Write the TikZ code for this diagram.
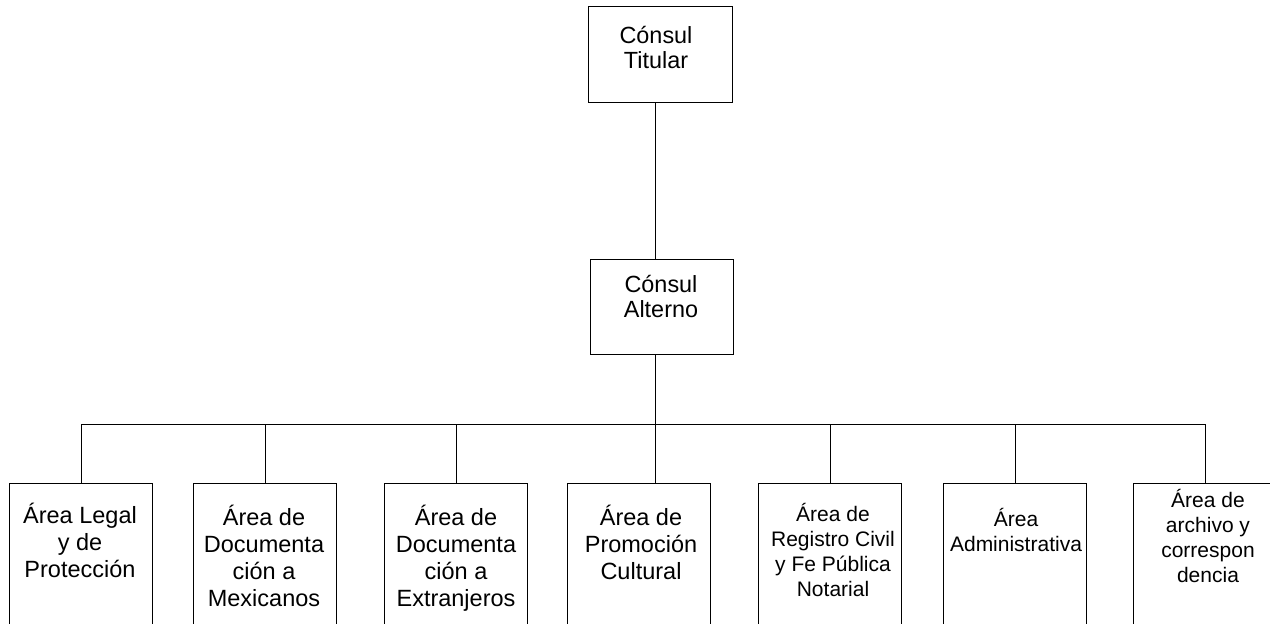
\documentclass[tikz,border=0pt]{standalone}
\usepackage{fontspec}
\setmainfont{Liberation Sans}
\usetikzlibrary{calc}
\begin{document}
\begin{tikzpicture}[x=0.5pt,y=-0.5pt,
  box/.style={draw=black,line width=0.6pt,inner sep=0pt,anchor=north west,minimum width=71.5pt},
  bigtxt/.style={align=center,anchor=base,inner sep=0pt,font=\fontsize{11.75pt}{13.5pt}\selectfont},
  headtxt/.style={align=center,anchor=base,inner sep=0pt,font=\fontsize{11.7pt}{12.5pt}\selectfont},
  smalltxt/.style={align=center,anchor=base,inner sep=0pt,font=\fontsize{10.5pt}{12.4pt}\selectfont},
  link/.style={line width=0.6pt}]
\useasboundingbox (0,0) rectangle (1270,623);
\clip (0,0) rectangle (1270,623);
% boxes
\node[box,minimum width=72pt,minimum height=48pt] (top) at (588,6) {};
\node[box,minimum height=47.5pt] (mid) at (590,259) {};
\node[box,minimum height=78.5pt] (b1) at (9,483) {};
\node[box,minimum height=78.5pt] (b2) at (193,483) {};
\node[box,minimum height=78.5pt] (b3) at (384,483) {};
\node[box,minimum height=78.5pt] (b4) at (567,483) {};
\node[box,minimum height=78.5pt] (b5) at (758,483) {};
\node[box,minimum height=78.5pt] (b6) at (943,483) {};
\node[box,minimum height=78.5pt] (b7) at (1133,483) {};
% texts (anchored at the baseline of the last line)
\node[headtxt] (ttop) at (656,68) {Cónsul\\Titular};
\node[headtxt] (tmid) at (661,317) {Cónsul\\Alterno};
\node[bigtxt] (t1) at (80,577) {Área Legal\\y de\\Protección};
\node[bigtxt] (t2) at (264,606) {Área de\\Documenta\\ción a\\Mexicanos};
\node[bigtxt] (t3) at (456,606) {Área de\\Documenta\\ción a\\Extranjeros};
\node[bigtxt] (t4) at (641,579) {Área de\\Promoción\\Cultural};
\node[smalltxt] (t5) at (833,596) {Área de\\Registro Civil\\y Fe Pública\\Notarial};
\node[smalltxt] (t6) at (1016,551) {Área\\Administrativa};
\node[smalltxt] (t7) at (1208,582) {Área de\\archivo y\\correspon\\dencia};
% connectors
\coordinate (spine) at (655.5,0);
\coordinate (bus) at (655.5,424.5);
\draw[link] (top.south -| spine) -- (mid.north -| spine);
\draw[link] (mid.south -| spine) -- (b4.north -| spine);
\draw[link] (b1.north) -- (b1.north |- bus) -- (b7.north |- bus) -- (b7.north);
\draw[link] (b2.north) -- (b2.north |- bus);
\draw[link] (b3.north) -- (b3.north |- bus);
\draw[link] (b5.north) -- (b5.north |- bus);
\draw[link] (b6.north) -- (b6.north |- bus);
\end{tikzpicture}
\end{document}
